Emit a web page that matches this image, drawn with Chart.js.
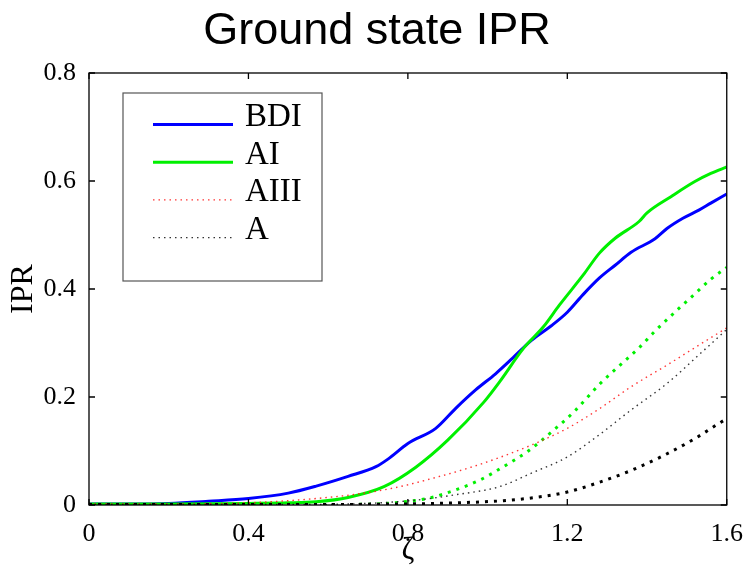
<!DOCTYPE html>
<html>
<head>
<meta charset="utf-8">
<script src="https://cdn.jsdelivr.net/npm/chart.js@4.4.1/dist/chart.umd.min.js"></script>
<style>
  html, body { margin: 0; padding: 0; background: #fff; }
  #wrap { width: 749px; height: 569px; position: relative; }
</style>
</head>
<body>
<div id="wrap"><canvas id="c"></canvas></div>
<script>
// ---- data ----
const chartTitle = "Ground state IPR";
const xTitle = "ζ";
const yTitle = "IPR";

const bdiX = [0, 0.1, 0.2, 0.3, 0.4, 0.5, 0.57, 0.65, 0.72, 0.75, 0.8, 0.87, 0.92, 0.97, 1.02, 1.06, 1.11, 1.16, 1.2, 1.24, 1.28, 1.32, 1.36, 1.42, 1.45, 1.49, 1.53, 1.56, 1.6];
const bdiY = [0.002, 0.002, 0.003, 0.007, 0.012, 0.022, 0.035, 0.053, 0.071, 0.085, 0.114, 0.142, 0.179, 0.213, 0.243, 0.270, 0.305, 0.332, 0.357, 0.390, 0.420, 0.444, 0.468, 0.493, 0.512, 0.531, 0.546, 0.559, 0.576];

const aiX = [0, 0.2, 0.4, 0.5, 0.57, 0.65, 0.74, 0.82, 0.9, 0.99, 1.03, 1.09, 1.14, 1.18, 1.24, 1.28, 1.32, 1.38, 1.4, 1.46, 1.52, 1.56, 1.6];
const aiY = [0.002, 0.002, 0.003, 0.004, 0.006, 0.014, 0.034, 0.070, 0.120, 0.190, 0.228, 0.290, 0.330, 0.370, 0.426, 0.466, 0.494, 0.525, 0.541, 0.571, 0.599, 0.614, 0.626];

const aiDotX = [0, 0.6, 0.72, 0.78, 0.86, 0.92, 0.98, 1.04, 1.1, 1.16, 1.22, 1.28, 1.34, 1.38, 1.42, 1.48, 1.52, 1.56, 1.6];
const aiDotY = [0.001, 0.001, 0.002, 0.005, 0.014, 0.028, 0.046, 0.071, 0.099, 0.135, 0.175, 0.223, 0.264, 0.291, 0.322, 0.364, 0.391, 0.418, 0.440];

const aiiiX = [0, 0.2, 0.4, 0.57, 0.7, 0.78, 0.86, 0.95, 1.03, 1.11, 1.2, 1.28, 1.36, 1.45, 1.53, 1.6];
const aiiiY = [0.002, 0.002, 0.004, 0.012, 0.023, 0.034, 0.049, 0.068, 0.088, 0.111, 0.142, 0.178, 0.219, 0.259, 0.296, 0.328];

const aX = [0, 0.5, 0.7, 0.82, 0.92, 1.03, 1.11, 1.2, 1.28, 1.36, 1.45, 1.53, 1.6];
const aY = [0.001, 0.001, 0.003, 0.009, 0.019, 0.034, 0.059, 0.089, 0.130, 0.176, 0.225, 0.278, 0.325];

const aDotX = [0, 0.6, 0.8, 0.92, 1.04, 1.12, 1.2, 1.28, 1.36, 1.44, 1.52, 1.58, 1.6];
const aDotY = [0.001, 0.001, 0.002, 0.004, 0.008, 0.014, 0.024, 0.042, 0.064, 0.091, 0.123, 0.151, 0.160];

const xTicks = [0, 0.4, 0.8, 1.2, 1.6];
const yTicks = [0, 0.2, 0.4, 0.6, 0.8];
// ---------------------------------------

const pts = (xs, ys) => xs.map((x, i) => ({x: x, y: ys[i]}));
const serif = '"Liberation Serif", "Times New Roman", serif';

const datasets = [
  { label: 'A (thick)', data: pts(aDotX, aDotY), borderColor: '#000000', borderWidth: 3, borderDash: [3, 6], inLegend: false },
  { label: 'A', data: pts(aX, aY), borderColor: 'rgba(30,30,30,0.9)', borderWidth: 1.4, borderDash: [1.5, 4], inLegend: true },
  { label: 'AIII', data: pts(aiiiX, aiiiY), borderColor: 'rgba(255,30,30,0.9)', borderWidth: 1.4, borderDash: [1.5, 4], inLegend: true },
  { label: 'AI (thick)', data: pts(aiDotX, aiDotY), borderColor: '#00f000', borderWidth: 3, borderDash: [3, 6], inLegend: false },
  { label: 'AI', data: pts(aiX, aiY), borderColor: '#00f000', borderWidth: 3, inLegend: true },
  { label: 'BDI', data: pts(bdiX, bdiY), borderColor: '#0000ff', borderWidth: 3, inLegend: true }
];
datasets.forEach(d => { d.pointRadius = 0; d.fill = false; d.cubicInterpolationMode = 'monotone'; d.borderCapStyle = 'butt'; });

const legendOrder = ['BDI', 'AI', 'AIII', 'A'];

const framePlugin = {
  id: 'frame',
  afterDatasetsDraw(chart) {
    const {ctx, chartArea: a, scales} = chart;
    const xs = scales.x, ys = scales.y;
    ctx.save();
    ctx.strokeStyle = '#000';
    ctx.lineWidth = 1.3;
    ctx.strokeRect(a.left, a.top, a.right - a.left, a.bottom - a.top);
    const L = 6;
    ctx.beginPath();
    xs.ticks.forEach((t, i) => {
      const px = xs.getPixelForTick(i);
      ctx.moveTo(px, a.bottom); ctx.lineTo(px, a.bottom - L);
      ctx.moveTo(px, a.top); ctx.lineTo(px, a.top + L);
    });
    ys.ticks.forEach((t, i) => {
      const py = ys.getPixelForTick(i);
      ctx.moveTo(a.left, py); ctx.lineTo(a.left + L, py);
      ctx.moveTo(a.right, py); ctx.lineTo(a.right - L, py);
    });
    ctx.stroke();
    ctx.restore();
  },
  afterDraw(chart) {
    const {ctx, chartArea: a} = chart;
    ctx.save();
    // title
    ctx.fillStyle = '#000';
    ctx.font = '45px "Liberation Sans", Arial, sans-serif';
    ctx.textAlign = 'center';
    ctx.textBaseline = 'alphabetic';
    ctx.fillText(chartTitle, 377, 44);

    // legend box
    const bx = a.left + 34, by = a.top + 20, bw = 199, bh = 188;
    ctx.fillStyle = '#fff';
    ctx.fillRect(bx, by, bw, bh);
    ctx.strokeStyle = '#555';
    ctx.lineWidth = 1.2;
    ctx.strokeRect(bx, by, bw, bh);
    ctx.font = '33px ' + serif;
    ctx.textAlign = 'left';
    ctx.textBaseline = 'alphabetic';
    legendOrder.forEach((lab, i) => {
      const ds = chart.data.datasets.find(d => d.label === lab && d.inLegend);
      const base = by + 33 + i * 37.7;
      const ly = base - 1.5;
      ctx.save();
      ctx.strokeStyle = ds.borderColor;
      ctx.lineWidth = ds.borderWidth;
      ctx.setLineDash(ds.borderDash || []);
      ctx.beginPath();
      ctx.moveTo(bx + 30, ly);
      ctx.lineTo(bx + 110, ly);
      ctx.stroke();
      ctx.restore();
      ctx.fillStyle = '#000';
      ctx.fillText(lab, bx + 122, base);
    });
    ctx.restore();
  }
};

new Chart(document.getElementById('c'), {
  type: 'line',
  data: { datasets: datasets },
  options: {
    responsive: true,
    maintainAspectRatio: false,
    animation: false,
    devicePixelRatio: 1,
    layout: { padding: { left: 0, right: 21, top: 73, bottom: 0 } },
    plugins: { legend: { display: false }, title: { display: false }, tooltip: { enabled: false } },
    scales: {
      x: {
        type: 'linear', min: 0, max: 1.6,
        afterBuildTicks: s => { s.ticks = xTicks.map(v => ({value: v})); },
        afterFit: s => { s.height = 64; },
        grid: { display: false },
        border: { display: false },
        ticks: { font: { family: serif, size: 26 }, color: '#000', padding: 6, maxRotation: 0,
                 callback: v => String(v) },
        title: { display: true, text: xTitle, font: { family: serif, size: 31, lineHeight: 1.2 }, color: '#000', padding: { top: 0, bottom: 0 } }
      },
      y: {
        type: 'linear', min: 0, max: 0.8,
        afterBuildTicks: s => { s.ticks = yTicks.map(v => ({value: v})); },
        afterFit: s => { s.width = 89; },
        grid: { display: false },
        border: { display: false },
        ticks: { font: { family: serif, size: 26 }, color: '#000', padding: 5,
                 callback: v => String(v) },
        title: { display: true, text: yTitle, font: { family: serif, size: 32, lineHeight: 1.2 }, color: '#000', padding: { top: 4, bottom: 0 } }
      }
    }
  },
  plugins: [framePlugin]
});
</script>
</body>
</html>
